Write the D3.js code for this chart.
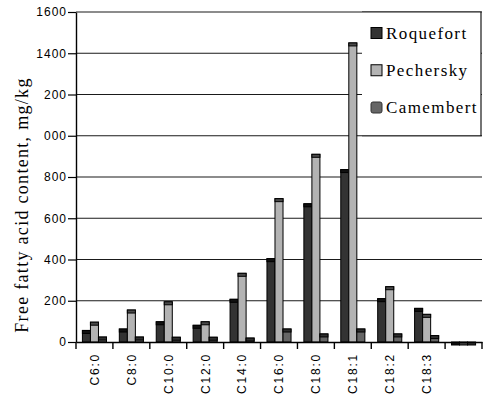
<!DOCTYPE html>
<html>
<head>
<meta charset="utf-8">
<script src="https://cdn.jsdelivr.net/npm/d3@7/dist/d3.min.js"></script>
<style>
  html, body { margin: 0; padding: 0; background: #fff; }
  svg { display: block; }
</style>
</head>
<body>
<svg id="chart" width="484" height="396"></svg>
<script>
// Free fatty acid content per fatty acid, three cheeses (mg/kg)
const categories = ["C6:0", "C8:0", "C10:0", "C12:0", "C14:0", "C16:0", "C18:0", "C18:1", "C18:2", "C18:3", ""];
const roquefort  = [56, 63, 98, 81, 207, 404, 670, 836, 210, 163, 0];
const pechersky  = [96, 155, 195, 98, 333, 695, 910, 1450, 268, 134, 0];
const camembert  = [24, 24, 23, 23, 19, 63, 39, 63, 39, 31, 0];
const seriesNames = ["Roquefort", "Pechersky", "Camembert"];
const yTicks = [0, 200, 400, 600, 800, 1000, 1200, 1400, 1600];
const yTickLabels = ["0", "200", "400", "600", "800", "000", "200", "1400", "1600"];
const yTitle = "Free fatty acid content, mg/kg";

const seriesValues = [roquefort, pechersky, camembert];
const fills = ["#333333", "#b3b3b3", "#666666"];
const caps  = ["#111111", "#4a4a4a", "#2e2e2e"];

const svg = d3.select("#chart");

const x = d3.scaleBand().domain(categories).range([76, 482]).padding(0);
const xs = d3.scaleBand().domain(seriesNames).range([0, x.bandwidth()])
  .paddingInner(0).paddingOuter(0.8);
const y = d3.scaleLinear().domain([0, 1600]).range([342, 12]);

// horizontal gridlines
svg.append("g").selectAll("line")
  .data(yTicks.filter(d => d > 0))
  .join("line")
  .attr("x1", x.range()[0]).attr("x2", x.range()[1])
  .attr("y1", d => y(d)).attr("y2", d => y(d))
  .attr("stroke", "#1a1a1a").attr("stroke-width", 1.2);

// bars with a darker top strip
const groups = svg.append("g").selectAll("g")
  .data(categories.map((c, i) => ({ c, i })))
  .join("g")
  .attr("transform", d => `translate(${x(d.c)},0)`);

seriesNames.forEach((name, s) => {
  groups.append("rect")
    .attr("x", xs(name)).attr("width", xs.bandwidth())
    .attr("y", d => y(seriesValues[s][d.i]))
    .attr("height", d => y(0) - y(seriesValues[s][d.i]))
    .attr("fill", fills[s]).attr("stroke", "#000").attr("stroke-width", 1);
  groups.append("rect")
    .attr("x", xs(name)).attr("width", xs.bandwidth())
    .attr("y", d => y(seriesValues[s][d.i]))
    .attr("height", 3)
    .attr("fill", caps[s]).attr("stroke", "#000").attr("stroke-width", 1);
});

// y axis
const yAxis = svg.append("g")
  .attr("transform", `translate(${x.range()[0]},0)`)
  .call(d3.axisLeft(y).tickValues(yTicks)
    .tickFormat((d, i) => yTickLabels[i])
    .tickSize(8).tickSizeOuter(0).tickPadding(1));
yAxis.select(".domain").attr("stroke", "#000").attr("stroke-width", 1.4);
yAxis.selectAll(".tick line").attr("stroke", "#000").attr("stroke-width", 1.2);
yAxis.selectAll(".tick text")
  .attr("font-family", "'Liberation Sans', Arial, sans-serif")
  .attr("font-size", 12).attr("letter-spacing", 1).attr("fill", "#000");

// x axis: baseline plus ticks at band boundaries
const xAxis = svg.append("g")
  .attr("transform", `translate(0,${y(0)})`)
  .call(d3.axisBottom(x).tickSize(0).tickFormat(""));
xAxis.select(".domain").attr("stroke", "#000").attr("stroke-width", 1.6);
const bounds = categories.map(c => x(c)).concat([x.range()[1]]);
xAxis.append("g").selectAll("line")
  .data(bounds)
  .join("line")
  .attr("x1", d => d).attr("x2", d => d)
  .attr("y1", 0).attr("y2", 7)
  .attr("stroke", "#000").attr("stroke-width", 1.4);

// rotated category labels
svg.append("g").selectAll("text")
  .data(categories)
  .join("text")
  .attr("transform", d => `translate(${x(d) + x.bandwidth() / 2},${y(0) + 11}) rotate(-90)`)
  .attr("text-anchor", "end")
  .attr("dy", "0.36em")
  .attr("font-family", "'Liberation Sans', Arial, sans-serif")
  .attr("font-size", 12)
  .attr("letter-spacing", 1.8)
  .attr("fill", "#000")
  .text(d => d);

// y title
svg.append("text")
  .attr("transform", "translate(28,205) rotate(-90)")
  .attr("text-anchor", "middle")
  .attr("font-family", "'Liberation Serif', 'Times New Roman', serif")
  .attr("font-size", 18)
  .attr("letter-spacing", 1.3)
  .attr("fill", "#000")
  .text(yTitle);

// legend box over the upper right of the plot
const lg = svg.append("g");
lg.append("rect")
  .attr("x", 362).attr("y", y(1600)).attr("width", 481 - 362).attr("height", y(1000) - y(1600))
  .attr("fill", "#fff");
lg.append("path")
  .attr("d", `M362,${y(1600)}H481V${y(1000)}H362`)
  .attr("fill", "none").attr("stroke", "#1a1a1a").attr("stroke-width", 1.2);

const legendRow = d3.scalePoint().domain(seriesNames).range([33, 107.5]);
seriesNames.forEach((name, s) => {
  lg.append("rect")
    .attr("x", 371).attr("y", legendRow(name) - 5.5)
    .attr("width", 11).attr("height", 11)
    .attr("rx", s === 2 ? 2 : 0)
    .attr("fill", fills[s]).attr("stroke", s === 2 ? "#333" : "#000").attr("stroke-width", 1);
  lg.append("text")
    .attr("x", 386).attr("y", legendRow(name) + 5.5)
    .attr("font-family", "'Liberation Serif', 'Times New Roman', serif")
    .attr("font-size", 17)
    .attr("letter-spacing", 1.4)
    .attr("fill", "#000")
    .text(name);
});
</script>
</body>
</html>
